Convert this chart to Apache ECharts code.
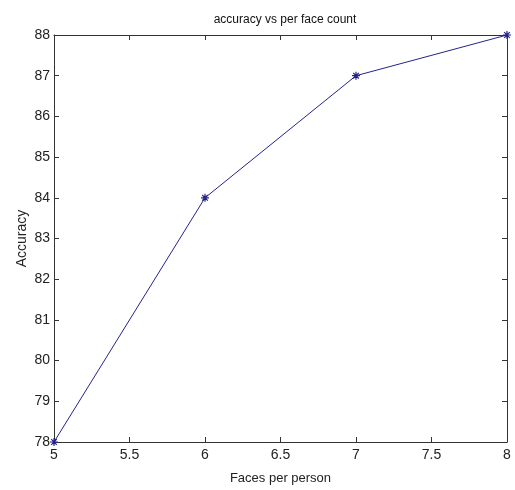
<!DOCTYPE html>
<html>
<head>
<meta charset="utf-8">
<script src="https://cdn.jsdelivr.net/npm/echarts@6/dist/echarts.min.js"></script>
<style>
html, body { margin: 0; padding: 0; background: #fff; }
#main { width: 515px; height: 490px; }
</style>
</head>
<body>
<div id="main"></div>
<script>
// data
var facesPerPerson = [5, 6, 7, 8];
var accuracy = [78, 84, 87, 88];

var myChart = echarts.init(document.getElementById('main'));

var points = [];
for (var i = 0; i < facesPerPerson.length; i++) {
    points.push([facesPerPerson[i], accuracy[i]]);
}

var lineColor = '#24248c';
var starPath = 'path://M0,-5L0,5M-5,0L5,0M-3.5,-3.5L3.5,3.5M-3.5,3.5L3.5,-3.5';
var fontFam = 'Liberation Sans, Arial, sans-serif';

var option = {
    backgroundColor: '#fff',
    animation: false,
    title: {
        text: 'accuracy vs per face count',
        left: 280,
        textAlign: 'center',
        top: 9,
        textStyle: { fontFamily: fontFam, fontSize: 12, fontWeight: 'normal', color: '#111' }
    },
    grid: { left: 54, right: 8, top: 35, bottom: 45 },
    xAxis: [{
        type: 'value',
        min: 5, max: 8, interval: 0.5,
        name: 'Faces per person',
        nameLocation: 'middle',
        nameMoveOverlap: false,
        nameGap: 30,
        nameTextStyle: { fontFamily: fontFam, fontSize: 13, color: '#222' },
        axisLine: { lineStyle: { color: '#333', width: 1 } },
        axisTick: { inside: true, length: 5, lineStyle: { color: '#333' } },
        axisLabel: { fontFamily: fontFam, fontSize: 14, color: '#222', margin: 6 },
        splitLine: { show: false }
    }, {
        type: 'value',
        position: 'top',
        min: 5, max: 8, interval: 0.5,
        axisLine: { show: true, lineStyle: { color: '#333', width: 1 } },
        axisTick: { show: true, inside: true, length: 5, lineStyle: { color: '#333' } },
        axisLabel: { show: false },
        splitLine: { show: false }
    }],
    yAxis: [{
        type: 'value',
        min: 78, max: 88, interval: 1,
        name: 'Accuracy',
        nameLocation: 'middle',
        nameMoveOverlap: false,
        nameGap: 25,
        nameTextStyle: { fontFamily: fontFam, fontSize: 14, color: '#222' },
        axisLine: { show: true, lineStyle: { color: '#333', width: 1 } },
        axisTick: { show: true, inside: true, length: 5, lineStyle: { color: '#333' } },
        axisLabel: { fontFamily: fontFam, fontSize: 14, color: '#222', margin: 4 },
        splitLine: { show: false }
    }, {
        type: 'value',
        position: 'right',
        min: 78, max: 88, interval: 1,
        axisLine: { show: true, lineStyle: { color: '#333', width: 1 } },
        axisTick: { show: true, inside: true, length: 5, lineStyle: { color: '#333' } },
        axisLabel: { show: false },
        splitLine: { show: false }
    }],
    series: [{
        type: 'line',
        data: points,
        symbol: starPath,
        symbolSize: 8,
        showAllSymbol: true,
        lineStyle: { color: lineColor, width: 1 },
        itemStyle: { color: 'transparent', borderColor: lineColor, borderWidth: 1.2 }
    }]
};

myChart.setOption(option);
</script>
</body>
</html>
